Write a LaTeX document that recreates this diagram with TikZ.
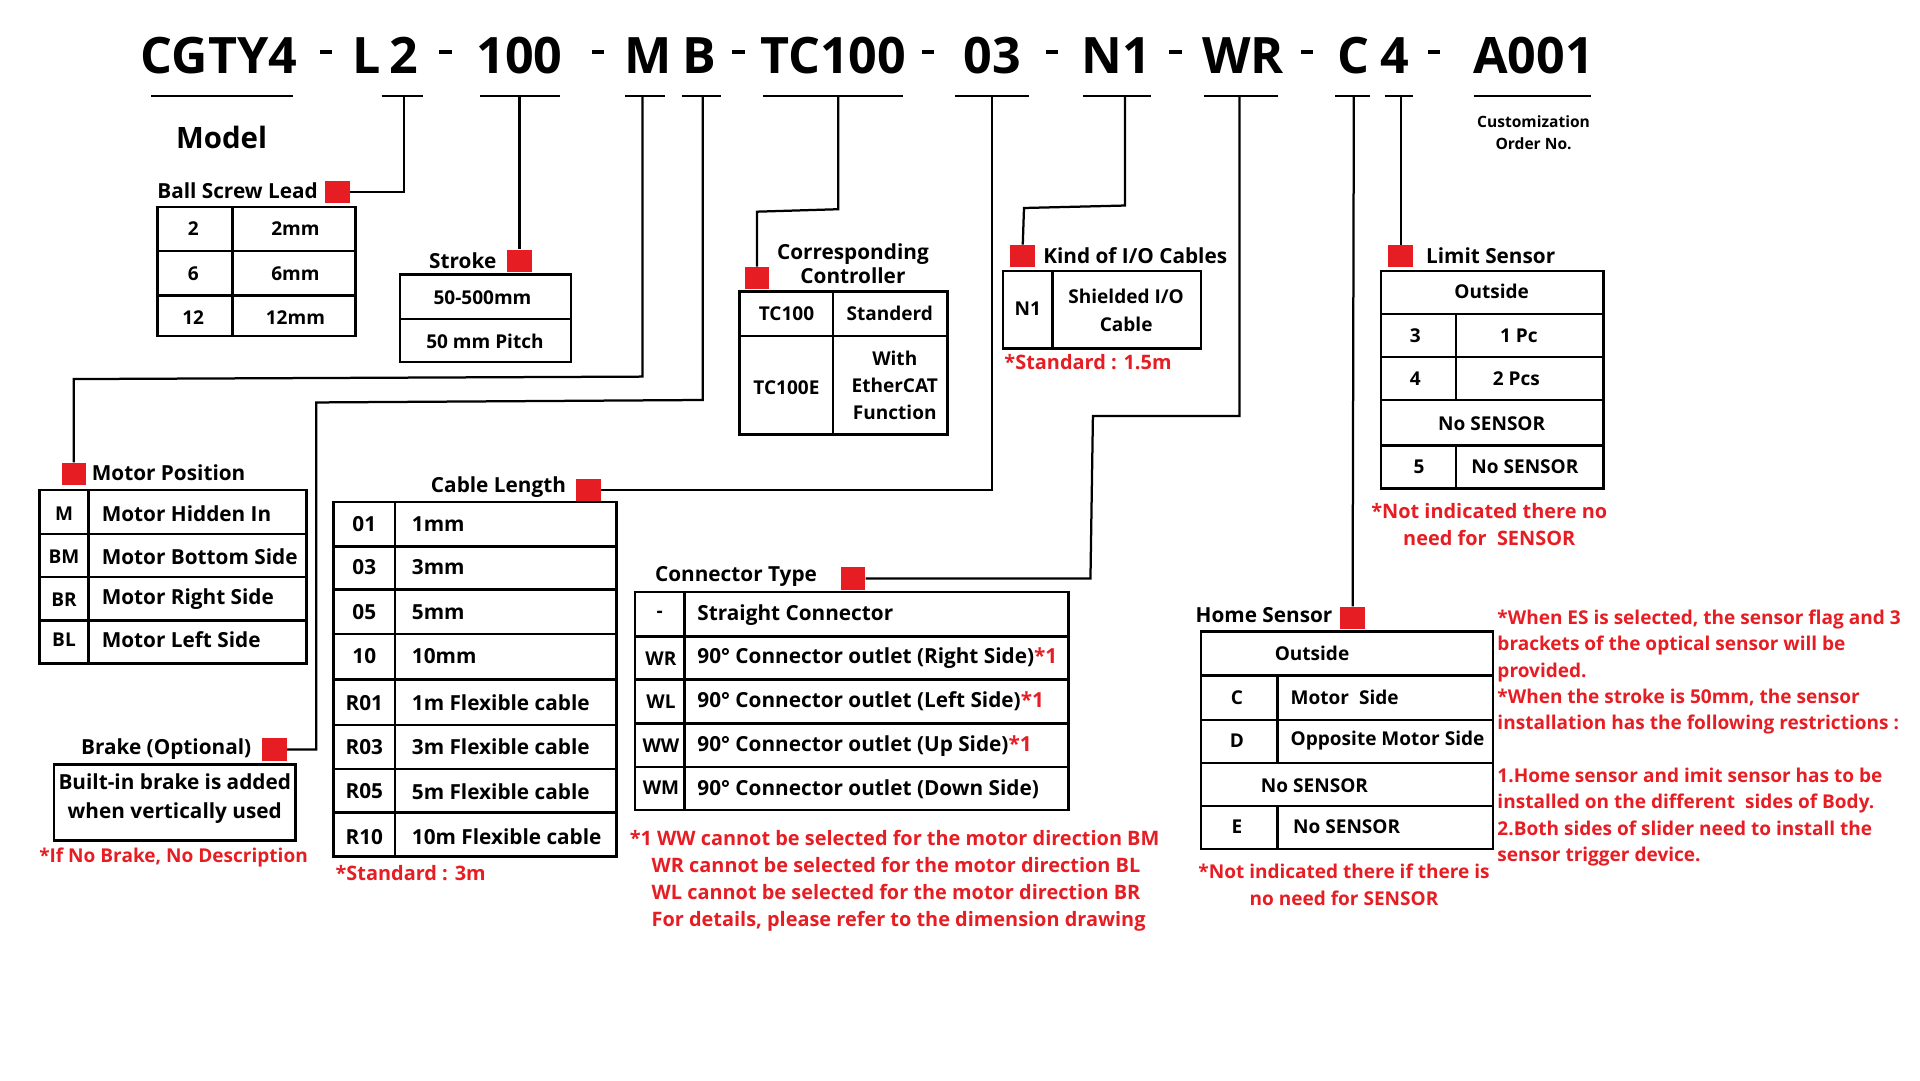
\documentclass[tikz,border=0pt]{standalone}
\usepackage{fontspec}
\setmainfont{Open Sans}
\definecolor{ered}{RGB}{230,30,36}
\newlength\pxu
\setlength\pxu{0.025cm}
\tikzset{
  sq/.style={fill=ered,minimum width=20\pxu,minimum height=18\pxu,inner sep=0pt},
  tx/.style={font=\bfseries\fontsize{11}{13}\selectfont,inner sep=1pt},
  lab/.style={font=\bfseries\fontsize{12}{14}\selectfont,inner sep=1pt},
  note/.style={font=\bfseries\fontsize{11.5}{15.5}\selectfont,text=ered,inner sep=1pt},
  ttl/.style={font=\bfseries\fontsize{29}{30}\selectfont,inner sep=0pt},
  wire/.style={line width=1.3pt},
  grid/.style={line width=1.4pt}
}
\begin{document}
\begin{tikzpicture}[x=0.025cm,y=-0.025cm]
\useasboundingbox[fill=white] (0,0) rectangle (1560,878);
% the code
\foreach \t/\x/\n in {CGTY4/178/cg,L/298/l,2/328/two,100/422/st,M/527/m,B/568/b,TC100/677/tc,03/806/cl,N1/907/io,WR/1010/ct,C/1100/hs,4/1133/ls,A001/1246/cu}
  \node[ttl] (\n) at (\x,45) {\t};
% the dashes
\foreach \x/\n in {265/d1,362/d2,486/d3,600/d4,754/d5,855/d6,955/d7,1062/d8,1165/d9}
  \node[fill=black,minimum width=10\pxu,minimum height=3\pxu,inner sep=0pt] (\n) at (\x,42) {};
% underlines
\foreach \a/\b in {123/238,310/344,390/455,508/540,554/586,620/734,776/836,880/935,978/1038,1085/1113,1125/1148,1198/1293}
  \draw[wire] (\a,78) -- (\b,78);
\node[font=\bfseries\fontsize{17}{19}\selectfont] (model) at (180,112) {Model};
\node[font=\bfseries\fontsize{9}{13}\selectfont,align=center] (cust) at (1246,108) {Customization\\Order No.};
% red squares
\node[sq] (qbl) at (274,156) {};
\node[sq] (qst) at (422,212) {};
\node[sq] (qmp) at (60,385) {};
\node[sq] (qbr) at (223,609) {};
\node[sq] (qtc) at (615,226) {};
\node[sq] (qcl) at (478,398) {};
\node[sq] (qio) at (831,208) {};
\node[sq] (qct) at (693,470) {};
\node[sq] (qhs) at (1099,502) {};
\node[sq] (qls) at (1138,208) {};
% connectors
\coordinate (u2) at (328,78); \coordinate (ust) at (422,78);
\coordinate (um) at (522,78); \coordinate (ub) at (571,78);
\coordinate (utc) at (681,78); \coordinate (ucl) at (806,78);
\coordinate (uio) at (914,78); \coordinate (uct) at (1007,78);
\coordinate (uhs) at (1100,78); \coordinate (uls) at (1138,78);
\draw[wire] (u2) |- (qbl.east);
\draw[wire] (ust) -- (qst.north);
\draw[wire] (um) -- (522,306) -- (60,308) -- (qmp.north);
\draw[wire] (ub) -- (571,325) -- (257,327) -- (257,609) -- (qbr.east);
\draw[wire] (utc) -- (681,170) -- (615,172) -- (qtc.north);
\draw[wire] (ucl) |- (qcl.east);
\draw[wire] (uio) -- (914,167) -- (832,169) -- (qio.north);
\draw[wire] (uct) -- (1007,338) -- (888,338) -- (886,470) -- (qct.east);
\draw[wire] (uhs) -- (qhs.north);
\draw[wire] (uls) -- (qls.north);
% Ball Screw Lead
\node[lab] (lbl) at (193,155) {Ball Screw Lead};
\draw[grid] (128,168) rectangle (289,273) (189,168) -- (189,273) (128,204) -- (289,204) (128,240) -- (289,240);
\foreach \a/\b/\y in {2/2mm/186,6/6mm/222,12/12mm/258}
  {\node[tx] at (157,\y) {\a}; \node[tx] at (240,\y) {\b};}
% Stroke
\node[lab] (lst) at (376,212) {Stroke};
\draw[grid] (325,223) rectangle (464,294) (325,259) -- (464,259);
\node[tx] at (392,242) {50-500mm};
\node[tx] at (394,277) {50 mm Pitch};
% Controller
\node[lab,align=center] (ltc) at (693,214) {Corresponding\\Controller};
\draw[grid] (601,237) rectangle (770,353) (677,237) -- (677,353) (601,273) -- (770,273);
\node[tx] at (639,255) {TC100};
\node[tx] at (723,255) {Standerd};
\node[tx] at (639,315) {TC100E};
\node[tx,align=center,font=\bfseries\fontsize{11}{15.5}\selectfont] at (727,313) {With\\EtherCAT\\Function};
% I/O cables
\node[lab,anchor=west] (lio) at (846,208) {Kind of I/O Cables};
\draw[grid] (815,220) rectangle (976,283) (855,220) -- (855,283);
\node[tx] at (835,251) {N1};
\node[tx,align=center,font=\bfseries\fontsize{11}{16}\selectfont] at (915,252) {Shielded I/O\\Cable};
\node[note] at (884,294) {*Standard : 1.5m};
% Limit sensor
\node[lab,anchor=west] (lls) at (1157,208) {Limit Sensor};
\draw[grid] (1122,220) rectangle (1303,397);
\foreach \y in {255,290,325,362} \draw[grid] (1122,\y) -- (1303,\y);
\draw[grid] (1183,255) -- (1183,325) (1183,362) -- (1183,397);
\node[tx] at (1212,237) {Outside};
\node[tx] at (1150,273) {3}; \node[tx] at (1234,273) {1 Pc};
\node[tx] at (1150,308) {4}; \node[tx] at (1232,308) {2 Pcs};
\node[tx] at (1212,344) {No SENSOR};
\node[tx] at (1153,379) {5}; \node[tx] at (1239,379) {No SENSOR};
\node[note,align=center] at (1210,426) {*Not indicated there no\\need for\ \ SENSOR};
% Motor position
\node[lab] (lmp) at (137,384) {Motor Position};
\draw[grid] (32,398) rectangle (249,539) (72,398) -- (72,539);
\foreach \y in {434,469,504} \draw[grid] (32,\y) -- (249,\y);
\foreach \a/\b/\y in {M/Motor Hidden In/417,BM/Motor Bottom Side/452,BR/Motor Right Side/487,BL/Motor Left Side/520}
  {\node[tx] at (52,\y) {\a}; \node[tx,anchor=west,font=\bfseries\fontsize{12}{14}\selectfont] at (81,\y) {\b};}
% Brake
\node[lab] (lbr) at (135,609) {Brake (Optional)};
\draw[grid] (44,621) rectangle (240,683);
\node[tx,align=center,font=\bfseries\fontsize{12}{17}\selectfont] at (142,649) {Built-in brake is added\\when vertically used};
\node[note,font=\bfseries\fontsize{11}{15}\selectfont] at (141,697) {*If No Brake, No Description};
% Cable length
\node[lab] (lcl) at (405,396) {Cable Length};
\draw[grid] (271,408) rectangle (501,696) (321,408) -- (321,696);
\foreach \y in {444,479,515,552,589,625,660} \draw[grid] (271,\y) -- (501,\y);
\foreach \a/\b/\y in {01/1mm/426,03/3mm/461,05/5mm/497,10/10mm/533,R01/1m Flexible cable/571,R03/3m Flexible cable/607,R05/5m Flexible cable/643,R10/10m Flexible cable/680}
  {\node[tx,font=\bfseries\fontsize{12}{14}\selectfont] at (296,\y) {\a}; \node[tx,anchor=west,font=\bfseries\fontsize{12}{14}\selectfont] at (333,\y) {\b};}
\node[note,anchor=west] at (271,709) {*Standard : 3m};
% Connector type
\node[lab] (lct) at (598,468) {Connector Type};
\draw[grid] (516,481) rectangle (868,658) (556,481) -- (556,658);
\foreach \y in {517,552,588,623} \draw[grid] (516,\y) -- (868,\y);
\node[tx] at (536,499) {-};
\node[tx,anchor=west,font=\bfseries\fontsize{12}{14}\selectfont] at (565,500) {Straight Connector};
\foreach \a/\b/\y in {WR/Right Side/535,WL/Left Side/570,WW/Up Side/606}
  {\node[tx] at (537,\y) {\a}; \node[tx,anchor=west,font=\bfseries\fontsize{12}{14}\selectfont] at (565,\y) {90° Connector outlet (\b)\textcolor{ered}{*1}};}
\node[tx] at (537,640) {WM};
\node[tx,anchor=west,font=\bfseries\fontsize{12}{14}\selectfont] at (565,641) {90° Connector outlet (Down Side)};
\node[note,anchor=north west,align=left] at (510,673) {*1 WW cannot be selected for the motor direction BM\\
\hspace*{1.1em}WR cannot be selected for the motor direction BL\\
\hspace*{1.1em}WL cannot be selected for the motor direction BR\\
\hspace*{1.1em}For details, please refer to the dimension drawing};
% Home sensor
\node[lab] (lhs) at (1027,500) {Home Sensor};
\draw[grid] (976,513) rectangle (1213,690);
\foreach \y in {549,585,620,655} \draw[grid] (976,\y) -- (1213,\y);
\draw[grid] (1038,549) -- (1038,620) (1038,655) -- (1038,690);
\node[tx] at (1066,531) {Outside};
\node[tx] at (1005,567) {C}; \node[tx,anchor=west] at (1047,567) {Motor\ \ Side};
\node[tx] at (1005,602) {D}; \node[tx,anchor=west] at (1047,602) {Opposite Motor Side};
\node[tx] at (1068,638) {No SENSOR};
\node[tx] at (1005,672) {E}; \node[tx,anchor=west] at (1049,672) {No SENSOR};
\node[note,align=center,font=\bfseries\fontsize{11}{15.5}\selectfont] at (1092,719) {*Not indicated there if there is\\no need for SENSOR};
% notes right
\node[note,anchor=north west,align=left,font=\bfseries\fontsize{11}{15.2}\selectfont] at (1215,494) {*When ES is selected, the sensor flag and 3\\brackets of the optical sensor will be\\provided.\\*When the stroke is 50mm, the sensor\\installation has the following restrictions :\\[15.2pt]1.Home sensor and imit sensor has to be\\installed on the different\ \ sides of Body.\\2.Both sides of slider need to install the\\sensor trigger device.};
\end{tikzpicture}
\end{document}
